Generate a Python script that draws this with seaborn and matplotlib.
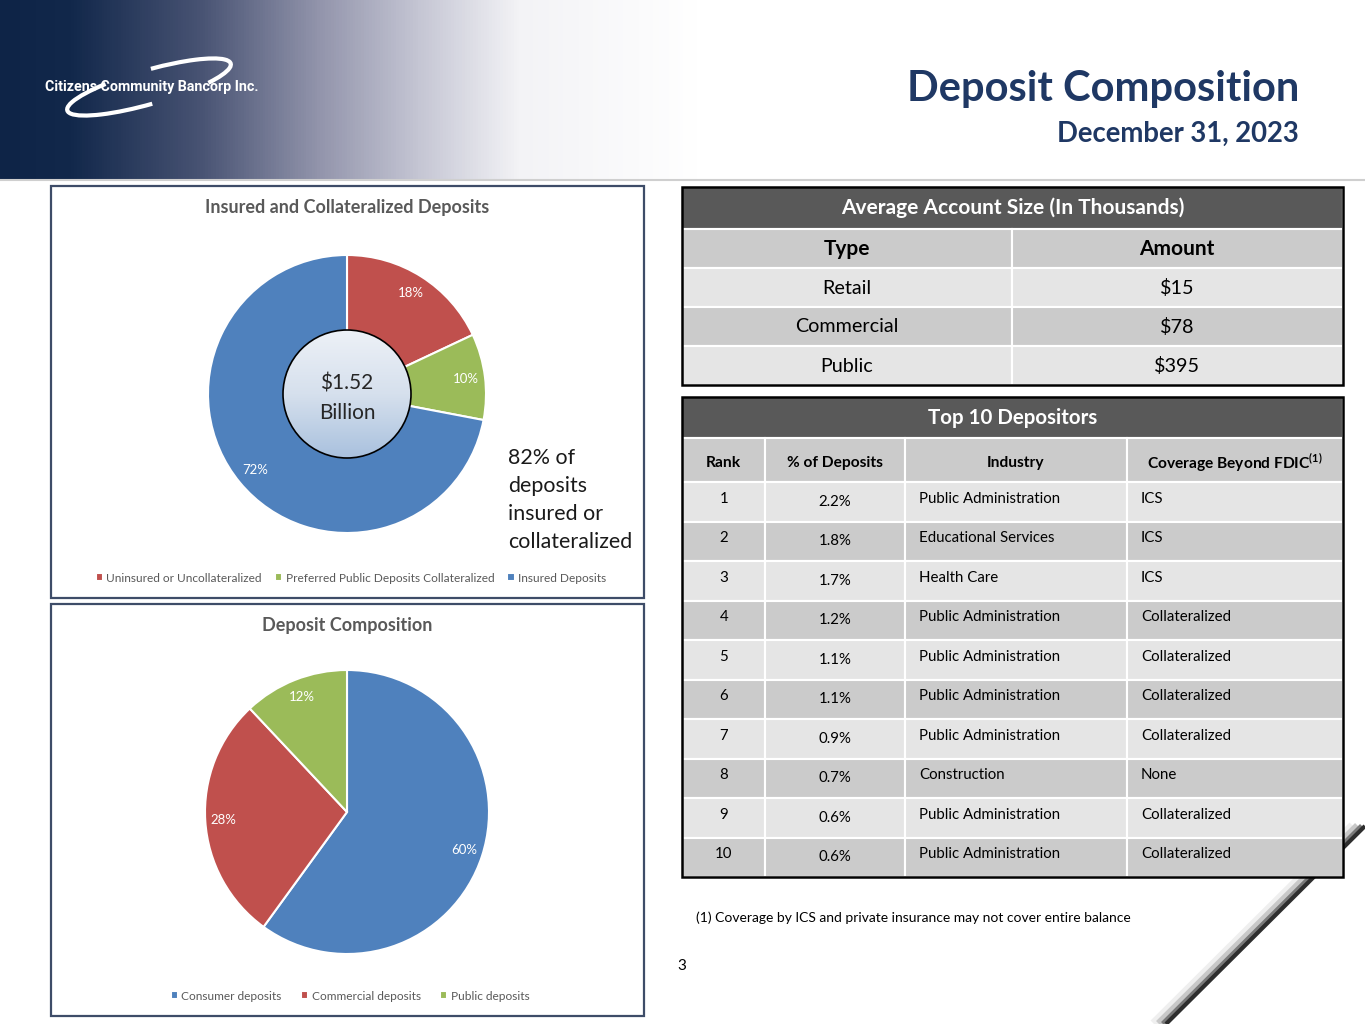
import matplotlib
matplotlib.use("Agg")
import matplotlib.pyplot as plt
import numpy as np
import seaborn as sns
from matplotlib.patches import Rectangle, Circle, Arc
from matplotlib.colors import LinearSegmentedColormap

W, H = 1365, 1024

# data
donut_labels = ["Uninsured or Uncollateralized", "Preferred Public Deposits Collateralized", "Insured Deposits"]
donut_values = [18, 10, 72]
donut_total = "$1.52\nBillion"

pie_labels = ["Consumer deposits", "Commercial deposits", "Public deposits"]
pie_values = [60, 28, 12]

acct_types = ["Retail", "Commercial", "Public"]
acct_amounts = ["$15", "$78", "$395"]

ranks = ["1", "2", "3", "4", "5", "6", "7", "8", "9", "10"]
pct_of_deposits = ["2.2%", "1.8%", "1.7%", "1.2%", "1.1%", "1.1%", "0.9%", "0.7%", "0.6%", "0.6%"]
industries = ["Public Administration", "Educational Services", "Health Care", "Public Administration",
              "Public Administration", "Public Administration", "Public Administration", "Construction",
              "Public Administration", "Public Administration"]
coverage = ["ICS", "ICS", "ICS", "Collateralized", "Collateralized", "Collateralized",
            "Collateralized", "None", "Collateralized", "Collateralized"]

sns.set_theme(style="white")
plt.rcParams["font.family"] = ["Lato", "DejaVu Sans"]
plt.rcParams["mathtext.fontset"] = "custom"
plt.rcParams["mathtext.rm"] = "Lato"
plt.rcParams["mathtext.bf"] = "Lato:bold"

RED, GREEN, BLUE = "#C0504D", "#9BBB59", "#4F81BD"
NAVY = "#1F3864"
GRAY_TXT = "#595959"
DARK_HDR = "#595959"
ROW_DARK = "#CBCBCB"
ROW_LIGHT = "#E5E5E5"

fig = plt.figure(figsize=(W / 100, H / 100), dpi=100)
fig.patch.set_facecolor("white")

bg = fig.add_axes([0, 0, 1, 1], zorder=0)
bg.axis("off")

# header gradient
stops = [(0, "#0E2447"), (70 / 700, "#12284B"), (200 / 700, "#485373"), (320 / 700, "#9395AC"),
         (420 / 700, "#C5C6D4"), (520 / 700, "#F3F3F6"), (1.0, "#FFFFFF")]
hdr_cmap = LinearSegmentedColormap.from_list("hdr", stops)
bg.imshow(np.linspace(0, 1, 700)[None, :], cmap=hdr_cmap, aspect="auto",
          extent=[0, 700, 180, 0], zorder=0)
bg.plot([0, W], [180, 180], color="#CFCFCF", lw=1.5, zorder=1)
bg.set_xlim(0, W)
bg.set_ylim(H, 0)

# logo
bg.add_patch(Arc((149, 87), 170, 34, angle=-16, theta1=95, theta2=200, color="white", lw=3, zorder=3))
bg.add_patch(Arc((149, 87), 170, 34, angle=-16, theta1=292, theta2=372, color="white", lw=3, zorder=3))
bg.text(45, 87, "Citizens Community Bancorp Inc.", color="white", fontsize=10.3, fontweight="bold",
        family=["Roboto", "DejaVu Sans"], va="center", ha="left", zorder=4)

# titles
bg.text(1299, 89, "Deposit Composition", color=NAVY, fontsize=30, fontweight="bold", ha="right", va="center")
bg.text(1299, 134, "December 31, 2023", color=NAVY, fontsize=19.8, fontweight="bold", ha="right", va="center")

# left panel boxes
for y0, y1 in [(186, 598), (604, 1016)]:
    bg.add_patch(Rectangle((51, y0), 593, y1 - y0, fill=False, ec="#3E4C68", lw=1.6, zorder=2))
bg.text(347, 208, "Insured and Collateralized Deposits", color=GRAY_TXT, fontsize=13,
        fontweight="bold", ha="center", va="center")
bg.text(347, 626, "Deposit Composition", color=GRAY_TXT, fontsize=13,
        fontweight="bold", ha="center", va="center")

bg.text(508, 500, "82% of\ndeposits\ninsured or\ncollateralized", fontsize=15.4, color="#1A1A1A",
        ha="left", va="center", linespacing=1.5)


def px_axes(cx, cy, half):
    return fig.add_axes([(cx - half) / W, 1 - (cy + half) / H, 2 * half / W, 2 * half / H], zorder=5)


def finish(ax, half):
    ax.set_xlim(-half, half)
    ax.set_ylim(-half, half)
    ax.set_aspect("equal")
    ax.axis("off")


# donut
ax1 = px_axes(347, 394, 150)
R1, R_IN = 139, 64
w1, _, at1 = ax1.pie(donut_values, radius=R1, startangle=90, counterclock=False,
                     colors=[RED, GREEN, BLUE], autopct="%.0f%%", pctdistance=0.86,
                     wedgeprops=dict(width=R1 - R_IN + 2, edgecolor="white", linewidth=1.5),
                     textprops=dict(color="white", fontsize=9.5))
finish(ax1, 150)
grad = LinearSegmentedColormap.from_list("hole", ["#EDF1F7", "#D6E0ED", "#A9C1DE"])
im = ax1.imshow(np.linspace(0, 1, 200)[:, None], cmap=grad, extent=[-R_IN, R_IN, -R_IN, R_IN],
                origin="upper", zorder=3)
hole = Circle((0, 0), R_IN, transform=ax1.transData)
im.set_clip_path(hole)
ax1.add_patch(Circle((0, 0), R_IN, fill=False, ec="black", lw=1.2, zorder=4))
ax1.text(0, -4, donut_total, ha="center", va="center", fontsize=15, color="#262626",
         linespacing=1.6, zorder=5)
finish(ax1, 150)

fig.legend(w1, donut_labels, loc="center", bbox_to_anchor=(351 / W, 1 - 578 / H), ncol=3,
           frameon=False, fontsize=8.6, handlelength=0.6, handleheight=0.6, handletextpad=0.3,
           columnspacing=1.1, labelcolor=GRAY_TXT)

# pie
ax2 = px_axes(347, 812, 150)
w2, _, at2 = ax2.pie(pie_values, radius=142, startangle=90, counterclock=False,
                     colors=[BLUE, RED, GREEN], autopct="%.0f%%", pctdistance=0.87,
                     wedgeprops=dict(edgecolor="white", linewidth=1.5),
                     textprops=dict(color="white", fontsize=9.5))
finish(ax2, 150)
fig.legend(w2, pie_labels, loc="center", bbox_to_anchor=(350 / W, 1 - 996 / H), ncol=3,
           frameon=False, fontsize=8.6, handlelength=0.6, handleheight=0.6, handletextpad=0.3,
           columnspacing=1.6, labelcolor=GRAY_TXT)


def cell(x0, y0, x1, y1, color):
    bg.add_patch(Rectangle((x0, y0), x1 - x0, y1 - y0, fc=color, ec="white", lw=1.5, zorder=2))


# table 1
TX0, TX1, TMID = 682, 1343, 1012
cell(TX0, 187, TX1, 229, DARK_HDR)
bg.text((TX0 + TX1) / 2, 208, "Average Account Size (In Thousands)", color="white", fontsize=15,
        fontweight="bold", ha="center", va="center", zorder=3)
cell(TX0, 229, TMID, 268, ROW_DARK)
cell(TMID, 229, TX1, 268, ROW_DARK)
bg.text(847, 249, "Type", fontsize=15, fontweight="bold", ha="center", va="center", color="black", zorder=3)
bg.text(1177, 249, "Amount", fontsize=15, fontweight="bold", ha="center", va="center", color="black", zorder=3)
t1_tops = [268, 307, 346]
for i, (tp, amt) in enumerate(zip(acct_types, acct_amounts)):
    y0 = t1_tops[i]
    col = ROW_LIGHT if i % 2 == 0 else ROW_DARK
    cell(TX0, y0, TMID, y0 + 39, col)
    cell(TMID, y0, TX1, y0 + 39, col)
    bg.text(847, y0 + 20, tp, fontsize=14.2, ha="center", va="center", color="black", zorder=3)
    bg.text(1177, y0 + 20, amt, fontsize=14.2, ha="center", va="center", color="black", zorder=3)
bg.add_patch(Rectangle((TX0, 187), TX1 - TX0, 385 - 187, fill=False, ec="black", lw=1.8, zorder=4))

# table 2
cols = [682, 765, 905, 1127, 1343]
cell(TX0, 397, TX1, 438, DARK_HDR)
bg.text((TX0 + TX1) / 2, 418, "Top 10 Depositors", color="white", fontsize=14.8,
        fontweight="bold", ha="center", va="center", zorder=3)
headers = ["Rank", "% of Deposits", "Industry", "Coverage Beyond FDIC$^{\\mathbf{(1)}}$"]
for j, h in enumerate(headers):
    cell(cols[j], 438, cols[j + 1], 482, ROW_DARK)
    bg.text((cols[j] + cols[j + 1]) / 2, 463, h, fontsize=11.2, fontweight="bold", ha="center",
            va="center", color="black", zorder=3)
row_h = (877 - 482) / 10
for i in range(len(ranks)):
    y0 = 482 + i * row_h
    col = ROW_LIGHT if i % 2 == 0 else ROW_DARK
    for j in range(4):
        cell(cols[j], y0, cols[j + 1], y0 + row_h, col)
    mid = y0 + row_h / 2
    bg.text(724, mid - 3, ranks[i], fontsize=10.8, ha="center", va="center", color="black", zorder=3)
    bg.text(835, mid, pct_of_deposits[i], fontsize=10.8, ha="center", va="center", color="black", zorder=3)
    bg.text(919, mid - 3, industries[i], fontsize=10.8, ha="left", va="center", color="black", zorder=3)
    bg.text(1141, mid - 3, coverage[i], fontsize=10.8, ha="left", va="center", color="black", zorder=3)
bg.add_patch(Rectangle((TX0, 397), TX1 - TX0, 877 - 397, fill=False, ec="black", lw=1.8, zorder=4))

bg.text(696, 918, "(1) Coverage by ICS and private insurance may not cover entire balance", fontsize=10,
        ha="left", va="center", color="black")
bg.text(682, 966, "3", fontsize=11, ha="center", va="center", color="black")

# page curl in bottom-right corner
for off, c, lw in [(12, "#EFEFEF", 7), (7, "#C8C8C8", 6), (3, "#7A7A7A", 4), (0, "#2E2E2E", 3)]:
    bg.plot([1365 - off, 1166 - off], [826, 1024], color=c, lw=lw, solid_capstyle="butt", zorder=1)

bg.set_xlim(0, W)
bg.set_ylim(H, 0)

fig.savefig("out.png", dpi=100)
